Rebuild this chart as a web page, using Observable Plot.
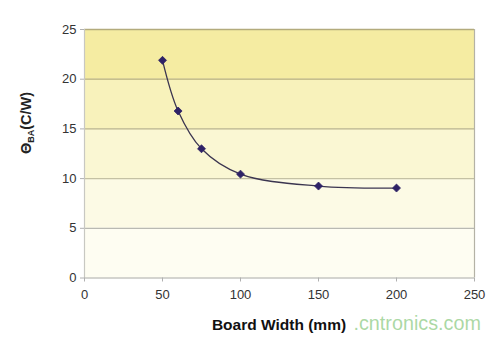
<!DOCTYPE html>
<html>
<head>
<meta charset="utf-8">
<script src="https://cdn.jsdelivr.net/npm/d3@7"></script>
<script src="https://cdn.jsdelivr.net/npm/@observablehq/plot@0.6"></script>
<style>
  html, body { margin: 0; padding: 0; background: #fff; }
  #chart { width: 500px; height: 339px; }
</style>
</head>
<body>
<div id="chart"></div>
<script>
// ---- data ----
const boardWidth = [50, 60, 75, 100, 150, 200];
const thetaBA = [21.9, 16.8, 13.0, 10.45, 9.25, 9.05];
const xTicks = [0, 50, 100, 150, 200, 250];
const yTicks = [0, 5, 10, 15, 20, 25];
const bandLow = [0, 5, 10, 15, 20];
const bandHigh = [5, 10, 15, 20, 25];
const xLabel = "Board Width (mm)";
const yLabelMain = "Θ";
const yLabelSub = "BA";
const yLabelUnit = "(C/W)";
const watermark = ".cntronics.com";

// ---- styles ----
const bandFills = ["#fefdf2", "#fcfae5", "#faf7d3", "#f8f2bb", "#f5eca2"];
const gridColors = ["#b9b9b2", "#c4c1a4", "#b9b38a", "#b6ae7c", "#b3ab7c"];

const points = boardWidth.map((x, i) => ({x, y: thetaBA[i]}));
const bands = bandLow.map((lo, i) => ({lo, hi: bandHigh[i], fill: bandFills[i]}));
const grid = yTicks.slice(1).map((y, i) => ({y, c: gridColors[i]}));

const chart = Plot.plot({
  width: 500,
  height: 339,
  marginLeft: 84,
  marginRight: 26,
  marginTop: 29,
  marginBottom: 61.5,
  style: {fontFamily: "'Liberation Sans', Arial, sans-serif", fontSize: "13px", background: "#fff"},
  x: {domain: [0, 250]},
  y: {domain: [0, 25]},
  marks: [
    Plot.rectY(bands, {x1: 0, x2: 250, y1: "lo", y2: "hi", fill: d => d.fill}),
    Plot.ruleY(grid, {y: "y", x1: 0, x2: 250, stroke: d => d.c, strokeWidth: 1.3}),
    Plot.ruleX([250], {y1: 0, y2: 25, stroke: "#b4b2a6", strokeWidth: 1.2}),
    Plot.ruleX([0], {y1: 0, y2: 25, stroke: "#c8c8c2", strokeWidth: 1.2}),
    Plot.ruleY([0], {x1: 0, x2: 250, stroke: "#a9a9a4", strokeWidth: 1.2}),
    Plot.axisY({ticks: yTicks, tickSize: 4, tickPadding: 4, stroke: "#b0b0b0", fill: "#333", label: null, fontSize: 13}),
    Plot.axisX({ticks: xTicks, tickSize: 4, tickPadding: 8, stroke: "#b0b0b0", fill: "#333", label: null, fontSize: 13}),
    Plot.line(points, {x: "x", y: "y", curve: "catmull-rom", stroke: "#3b3550", strokeWidth: 1.3}),
    Plot.dot(points, {x: "x", y: "y", symbol: "diamond2", r: 3.6, fill: "#2e2266", stroke: "#2e2266", strokeWidth: 0.8})
  ]
});

const svg = d3.select(chart);
// x label
svg.append("text")
  .attr("x", 279).attr("y", 330)
  .attr("text-anchor", "middle")
  .attr("font-family", "'Liberation Sans', Arial, sans-serif")
  .attr("font-weight", "bold")
  .attr("font-size", 15.5)
  .attr("fill", "#111")
  .text(xLabel);
// watermark
svg.append("text")
  .attr("x", 481).attr("y", 330)
  .attr("text-anchor", "end")
  .attr("font-family", "'Liberation Sans', Arial, sans-serif")
  .attr("font-size", 19.8)
  .attr("fill", "#8fcc86")
  .attr("fill-opacity", 0.75)
  .text(watermark);
// y label with subscript
const yl = svg.append("text")
  .attr("transform", "translate(31,123) rotate(-90)")
  .attr("text-anchor", "middle")
  .attr("font-family", "'Liberation Sans', Arial, sans-serif")
  .attr("font-weight", "bold")
  .attr("font-size", 14.5)
  .attr("fill", "#222");
yl.append("tspan").text(yLabelMain);
yl.append("tspan").attr("font-size", 9).attr("dy", 3).text(yLabelSub);
yl.append("tspan").attr("dy", -3).text(yLabelUnit);

document.getElementById("chart").appendChild(chart);
</script>
</body>
</html>
